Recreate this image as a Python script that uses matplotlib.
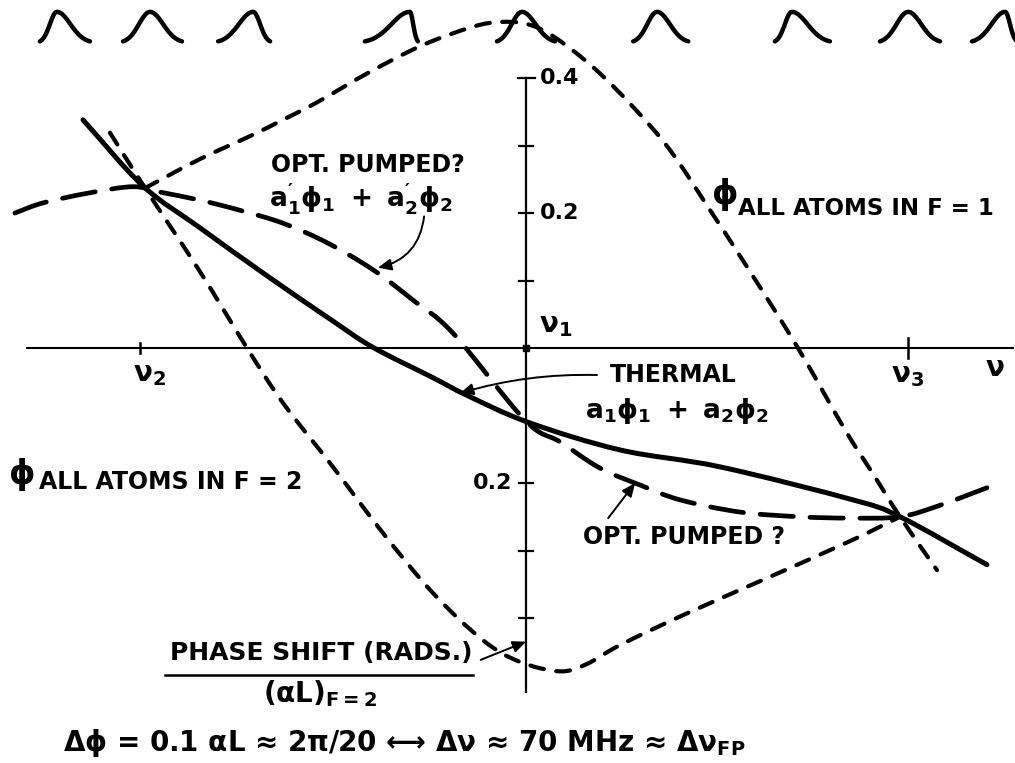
import numpy as np
import matplotlib
matplotlib.use("Agg")
import matplotlib.pyplot as plt
from matplotlib.path import Path
from matplotlib.patches import PathPatch

plt.rcParams["font.family"] = ["DejaVu Sans", "DejaVu Sans Mono"]
plt.rcParams["font.weight"] = "bold"
plt.rcParams["mathtext.fontset"] = "custom"
plt.rcParams["mathtext.rm"] = "DejaVu Sans:bold"
plt.rcParams["mathtext.it"] = "DejaVu Sans:bold"
plt.rcParams["mathtext.bf"] = "DejaVu Sans:bold"
plt.rcParams["mathtext.default"] = "regular"
plt.rcParams["lines.scale_dashes"] = False

# Frequency in units where nu2 = -1, nu1 = 0, nu3 = +1; phase shift / (alpha L)_{F=2}
nu_ticks = [-1.0, 0.0, 0.995]
phase_ticks = [0.4, 0.3, 0.2, 0.1, -0.2, -0.3, -0.4]
phase_tick_labels = {0.4: "0.4", 0.2: "0.2", -0.2: "0.2"}

# phi, all atoms in F=1
f1_nu = [-0.987, -0.844, -0.714, -0.629, -0.540, -0.403, -0.265, -0.135, -0.065,
         0.005, 0.073, 0.177, 0.281, 0.377, 0.481, 0.577, 0.709, 0.831, 0.909,
         0.974, 1.070]
f1_phi = [0.237, 0.280, 0.314, 0.338, 0.364, 0.409, 0.449, 0.476, 0.483,
          0.480, 0.462, 0.416, 0.357, 0.293, 0.204, 0.120, 0.000, -0.121, -0.191,
          -0.250, -0.329]

# phi, all atoms in F=2
f2_nu = [-1.078, -0.987, -0.844, -0.722, -0.629, -0.499, -0.369, -0.239, -0.109,
         -0.013, 0.091, 0.161, 0.247, 0.421, 0.636, 0.852, 0.974]
f2_phi = [0.319, 0.237, 0.113, 0.000, -0.081, -0.176, -0.274, -0.363, -0.433,
          -0.465, -0.479, -0.468, -0.440, -0.393, -0.339, -0.284, -0.250]

# optically pumped guess a'1 phi1 + a'2 phi2
op_nu = [-1.325, -1.252, -1.130, -1.018, -0.948, -0.844, -0.740, -0.629, -0.514,
         -0.395, -0.291, -0.187, 0.000, 0.091, 0.195, 0.299, 0.403, 0.558,
         0.714, 0.844, 0.974, 1.078, 1.200]
op_phi = [0.200, 0.215, 0.230, 0.239, 0.231, 0.219, 0.204, 0.185, 0.156,
          0.116, 0.071, 0.022, -0.107, -0.139, -0.178, -0.203, -0.225, -0.243,
          -0.250, -0.252, -0.250, -0.233, -0.207]

# thermal mixture a1 phi1 + a2 phi2
th_nu = [-1.148, -0.992, -0.844, -0.670, -0.499, -0.395, -0.239, -0.151, 0.008,
         0.247, 0.506, 0.852, 0.974, 1.200]
th_phi = [0.338, 0.240, 0.178, 0.107, 0.040, 0.001, -0.044, -0.070, -0.110,
          -0.151, -0.176, -0.225, -0.250, -0.321]

# Fabry-Perot transmission peaks along the top: centre, left / right extent
fp_center = [-1.216, -0.974, -0.706, -0.299, -0.008, 0.343, 0.693, 0.995, 1.247]
fp_left = [0.044, 0.070, 0.091, 0.117, 0.065, 0.062, 0.044, 0.073, 0.086]
fp_right = [0.086, 0.083, 0.044, 0.021, 0.086, 0.081, 0.099, 0.083, 0.031]
fp_base = 0.452
fp_height = 0.046


def smooth_path(xs, ys):
    """Cubic Bezier path through the given points (Catmull-Rom tangents)."""
    p = np.column_stack([xs, ys]).astype(float)
    ext = np.vstack([2 * p[0] - p[1], p, 2 * p[-1] - p[-2]])
    verts = [p[0]]
    codes = [Path.MOVETO]
    for i in range(1, len(ext) - 2):
        c1 = ext[i] + (ext[i + 1] - ext[i - 1]) / 6.0
        c2 = ext[i + 1] - (ext[i + 2] - ext[i]) / 6.0
        verts += [c1, c2, ext[i + 1]]
        codes += [Path.CURVE4] * 3
    return Path(verts, codes)


def curve(ax, xs, ys, lw, dashes=None):
    ls = "-" if dashes is None else (0, dashes)
    ax.add_patch(PathPatch(smooth_path(xs, ys), fill=False, edgecolor="black",
                           lw=lw, linestyle=ls, capstyle="round", joinstyle="round"))


fig = plt.figure(figsize=(10.15, 7.63), dpi=100)
ax = fig.add_axes([0, 0, 1, 1])
ax.set_xlim(-1.3636, 1.2727)
ax.set_ylim(-0.6148, 0.5156)
ax.axis("off")

ink = "black"

# axes
ax.plot([-1.294, 1.268], [0, 0], color=ink, lw=1.5)
ax.plot([0.003, 0.003], [0.4, -0.51], color=ink, lw=1.6)
for t in phase_ticks:
    half = 0.022 if t == 0.4 else 0.018
    ax.plot([0.003 - half, 0.003 + half], [t, t], color=ink, lw=1.6)
ax.plot([nu_ticks[0]] * 2, [-0.007, 0.007], color=ink, lw=1.8)
ax.plot([nu_ticks[2]] * 2, [-0.015, 0.015], color=ink, lw=1.8)
ax.plot([0.003], [0], marker="s", ms=4, color=ink)

for t, s in phase_tick_labels.items():
    if t > 0:
        ax.text(0.038, t, s, fontsize=16, ha="left", va="center")
    else:
        ax.text(-0.034, t, s, fontsize=16, ha="right", va="center")

# curves
curve(ax, f1_nu, f1_phi, 3.0, (10, 9))
curve(ax, f2_nu, f2_phi, 3.0, (10, 9))
curve(ax, op_nu, op_phi, 3.4, (24, 12))
curve(ax, th_nu, th_phi, 3.6)

# transmission peaks
for c, wl, wr in zip(fp_center, fp_left, fp_right):
    xs = np.linspace(c - wl, c + wr, 80)
    w = np.where(xs < c, wl, wr)
    ys = fp_base + fp_height * np.exp(-3.0 * ((xs - c) / w) ** 2)
    ax.plot(xs, ys, color=ink, lw=3.2, solid_capstyle="round")

# frequency labels
ax.text(0.036, 0.034, r"$\nu_1$", fontsize=20, ha="left", va="center")
ax.text(-0.974, -0.038, r"$\nu_2$", fontsize=20, ha="center", va="center")
ax.text(0.995, -0.040, r"$\nu_3$", fontsize=20, ha="center", va="center")
ax.text(1.221, -0.030, r"$\nu$", fontsize=20, ha="center", va="center")

# curve labels
ax.text(-0.660, 0.271, "OPT. PUMPED?", fontsize=17, ha="left", va="center")
ax.text(-0.664, 0.222, r"$a^{\prime\!}_1\phi_1\ +\ a^{\prime\!}_2\phi_2$", fontsize=19,
        ha="left", va="center")
ax.text(0.221, -0.040, "THERMAL", fontsize=17, ha="left", va="center")
ax.text(0.155, -0.094, r"$a_1\phi_1\ +\ a_2\phi_2$", fontsize=19, ha="left", va="center")
ax.text(0.151, -0.280, "OPT. PUMPED ?", fontsize=17, ha="left", va="center")

ax.text(0.484, 0.228, r"$\phi$", fontsize=24, ha="left", va="center")
ax.text(0.553, 0.207, "ALL ATOMS IN F = 1", fontsize=16.5, ha="left", va="center")
ax.text(-1.342, -0.188, r"$\phi$", fontsize=24, ha="left", va="center")
ax.text(-1.262, -0.199, "ALL ATOMS IN F = 2", fontsize=17, ha="left", va="center")

ax.text(-0.922, -0.452, "PHASE SHIFT (RADS.)", fontsize=18, ha="left", va="center")
ax.plot([-0.935, -0.135], [-0.484, -0.484], color=ink, lw=1.8)
ax.text(-0.532, -0.512, r"$(\alpha L)_{F = 2}$", fontsize=20, ha="center", va="center")

ax.text(-1.200, -0.585,
        "\u0394\u03d5 = 0.1 \u03b1L \u2248 2\u03c0/20 \u27f7 \u0394\u03bd \u2248 70 MHz \u2248 \u0394"
        r"$\nu_{FP}$",
        fontsize=20, ha="left", va="center")

# leader arrows
arrow = dict(arrowstyle="-|>,head_length=0.8,head_width=0.35", color=ink, lw=1.4,
             shrinkA=0, shrinkB=0)
ax.annotate("", xy=(-0.382, 0.119), xytext=(-0.262, 0.195),
            arrowprops=dict(arrow, connectionstyle="arc3,rad=-0.35"))
ax.annotate("", xy=(-0.169, -0.067), xytext=(0.187, -0.040),
            arrowprops=dict(arrow, connectionstyle="arc3,rad=0.08"))
ax.annotate("", xy=(0.286, -0.200), xytext=(0.216, -0.252),
            arrowprops=arrow)
ax.annotate("", xy=(0.003, -0.435), xytext=(-0.115, -0.462),
            arrowprops=arrow)

fig.savefig("out.png", dpi=100, facecolor="white")
